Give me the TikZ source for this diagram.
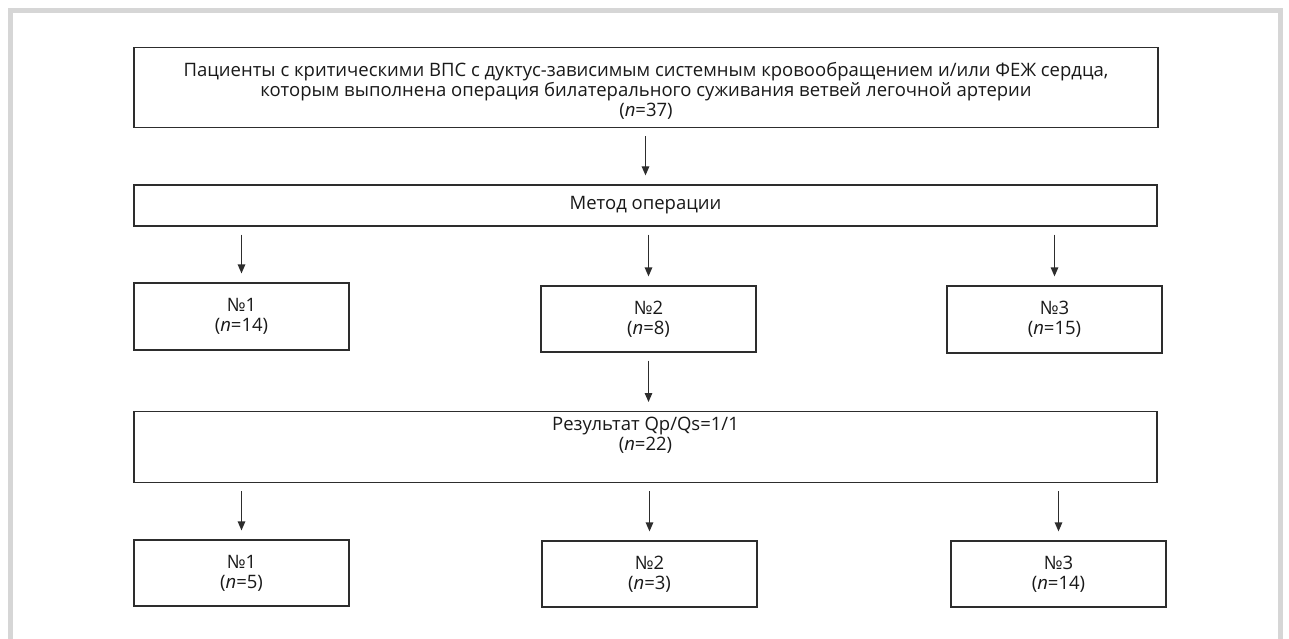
\documentclass[tikz,border=0pt]{standalone}
\usepackage{fontspec}
\setmainfont{Open Sans}
\usetikzlibrary{arrows.meta}
\definecolor{boxgray}{RGB}{45,45,45}
\definecolor{framegray}{RGB}{214,214,214}

\begin{document}
\begin{tikzpicture}[x=1pt, y=-1pt,
	box/.style={draw=boxgray, line width=1.2pt, align=center, inner sep=0pt,
		font=\fontsize{18.5}{20}\selectfont, text=black!90},
	arr/.style={draw=boxgray, line width=1.2pt, -{Triangle[length=9pt,width=7.5pt]},
		shorten <=8pt, shorten >=9pt}]
	\useasboundingbox (0,0) rectangle (1289,639);
	\clip (0,0) rectangle (1289,639);
	%frame
	\draw[framegray, line width=5pt] (10,10.5) rectangle (1280.5,700);
	%top
	\node[box, anchor=north, minimum width=1024, text height=69pt, text depth=11pt] (patients) at (646,47)
		{Пациенты с критическими ВПС с дуктус-зависимым системным кровообращением и/или ФЕЖ сердца,\\
		 которым выполнена операция билатерального суживания ветвей легочной артерии\\
		 (\textit{n}=37)};
	\node[box, minimum width=1023, minimum height=41] (method) at (645.5,205.5) {Метод операции};
	%first row
	\node[box, minimum width=215, minimum height=67] (op1) at (241.5,316.5) {№1\\(\textit{n}=14)};
	\node[box, minimum width=215, minimum height=66] (op2) at (648.5,319) {№2\\(\textit{n}=8)};
	\node[box, minimum width=215, minimum height=67] (op3) at (1054.5,319.5) {№3\\(\textit{n}=15)};
	%result
	\node[box, anchor=north, minimum width=1023, text height=39pt, text depth=32pt] (result) at (645.5,411)
		{Результат Qp/Qs=1/1\\(\textit{n}=22)};
	%second row
	\node[box, minimum width=215, minimum height=66] (res1) at (241.5,573) {№1\\(\textit{n}=5)};
	\node[box, minimum width=215, minimum height=66] (res2) at (649.5,574) {№2\\(\textit{n}=3)};
	\node[box, minimum width=215, minimum height=66] (res3) at (1058.5,574) {№3\\(\textit{n}=14)};
	%arrows
	\draw[arr] (patients.south -| method.north) -- (method.north);
	\draw[arr] (method.south -| op1.north) -- (op1.north);
	\draw[arr] (method.south -| op2.north) -- (op2.north);
	\draw[arr] (method.south -| op3.north) -- (op3.north);
	\draw[arr] (op2.south) -- (result.north -| op2.south);
	\draw[arr] (result.south -| res1.north) -- (res1.north);
	\draw[arr] (result.south -| res2.north) -- (res2.north);
	\draw[arr] (result.south -| res3.north) -- (res3.north);
\end{tikzpicture}
\end{document}
